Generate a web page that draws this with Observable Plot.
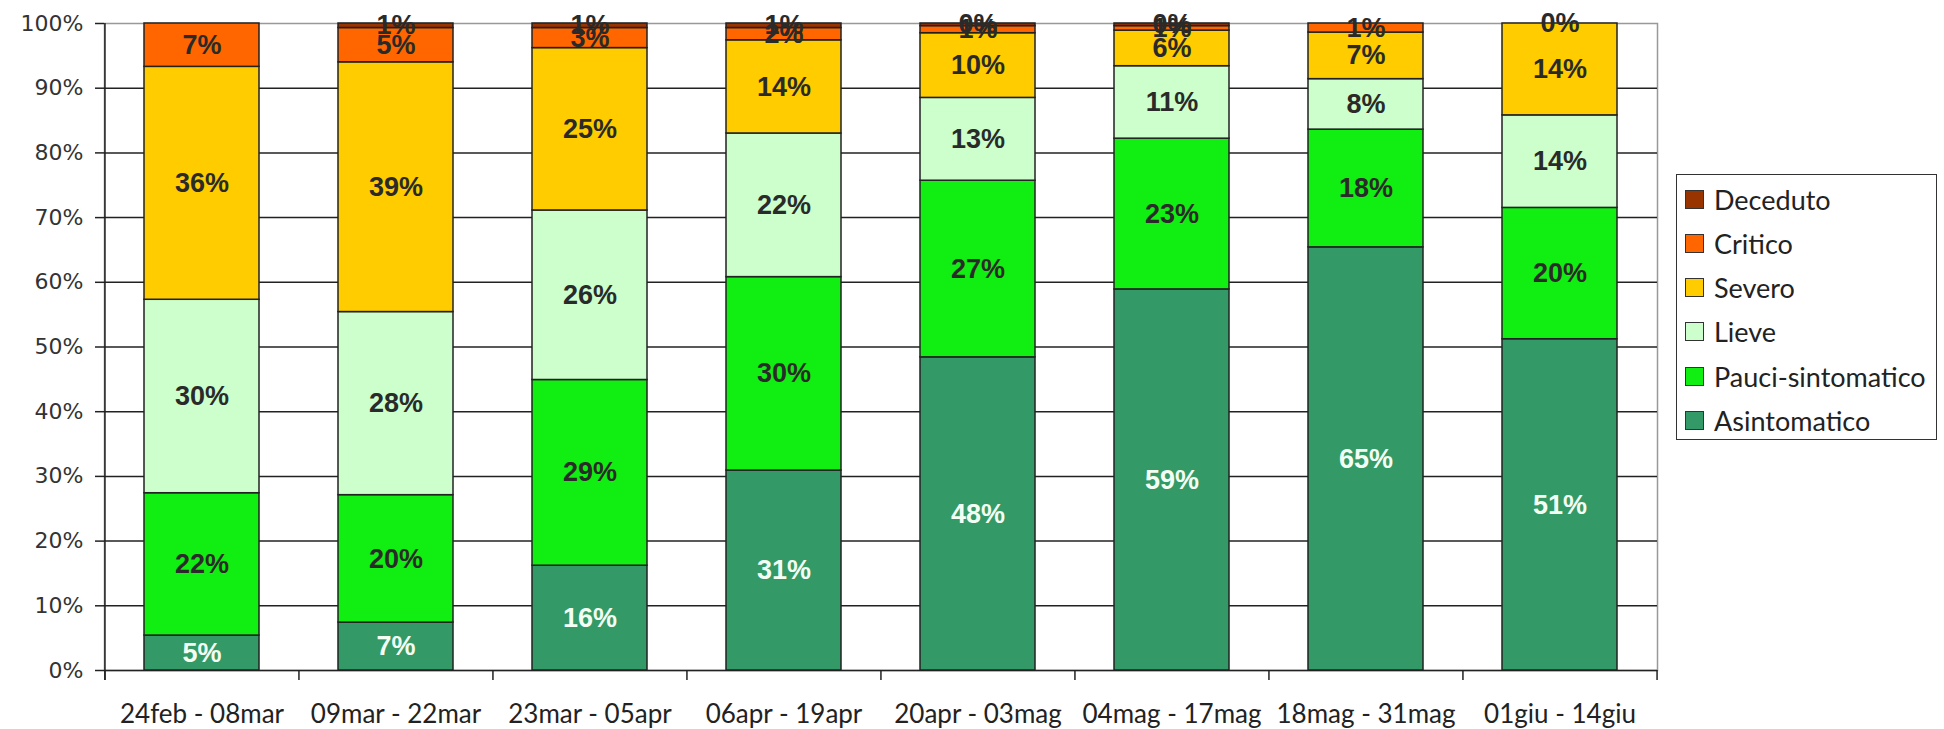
<!DOCTYPE html>
<html>
<head>
<meta charset="utf-8">
<script src="https://cdn.jsdelivr.net/npm/d3@7"></script>
<script src="https://cdn.jsdelivr.net/npm/@observablehq/plot@0.6"></script>
<style>
  html, body { margin: 0; padding: 0; background: #fff; }
  #wrap { position: relative; width: 1944px; height: 729px; }
  #legend { position: absolute; left: 1676px; top: 174px; width: 261px; height: 266px;
            border: 1.5px solid #333; box-sizing: border-box; background: #fff; }
  .item { position: absolute; left: 8px; display: flex; align-items: center; white-space: nowrap;
          font-family: Lato, sans-serif; font-size: 27px; color: #222; line-height: 1; }
  .sw { width: 19px; height: 19px; border: 1.5px solid #333; box-sizing: border-box; margin-right: 10px; flex: none; }
</style>
</head>
<body>
<div id="wrap"></div>
<script>
const periods = ["24feb - 08mar", "09mar - 22mar", "23mar - 05apr", "06apr - 19apr",
                 "20apr - 03mag", "04mag - 17mag", "18mag - 31mag", "01giu - 14giu"];
const categories = ["Asintomatico", "Pauci-sintomatico", "Lieve", "Severo", "Critico", "Deceduto"];
const colors = ["#339966", "#11ee11", "#ccffcc", "#ffcc00", "#ff6600", "#993300"];

const asintomatico = [5.4, 7.4, 16.2, 30.9, 48.4, 58.9, 65.4, 51.2];
const pauci        = [22.0, 19.7, 28.7, 29.9, 27.3, 23.3, 18.2, 20.3];
const lieve        = [29.9, 28.3, 26.2, 22.2, 12.8, 11.2, 7.8, 14.3];
const severo       = [36.0, 38.6, 25.1, 14.4, 10.0, 5.5, 7.2, 14.2];
const critico      = [6.7, 5.3, 3.1, 1.9, 1.1, 0.7, 1.4, 0];
const deceduto     = [null, 0.7, 0.7, 0.7, 0.4, 0.4, null, null];

const yTicks = [0, 10, 20, 30, 40, 50, 60, 70, 80, 90, 100];

const series = [asintomatico, pauci, lieve, severo, critico, deceduto];
const rows = [];
categories.forEach((c, ci) => {
  series[ci].forEach((v, pi) => {
    if (v == null) return;
    rows.push({period: periods[pi], category: c, value: v, label: Math.round(v) + "%"});
  });
});

const W = 1944, H = 729, mL = 104, mR = 287, mT = 23, mB = 59;
const step = (W - mL - mR) / periods.length;

const chart = Plot.plot({
  width: W, height: H,
  marginLeft: mL, marginRight: mR, marginTop: mT, marginBottom: mB,
  x: {domain: periods, paddingInner: 0.407, paddingOuter: 0.2035, label: null},
  y: {domain: [0, 100], label: null},
  color: {domain: categories, range: colors},
  marks: [
    Plot.frame({stroke: "#999", strokeWidth: 1.5}),
    Plot.ruleY(yTicks.filter(d => d < 100), {stroke: "#222", strokeWidth: 1.5}),
    Plot.barY(rows, {x: "period", y: "value", fill: "category", order: categories,
                     stroke: "#222", strokeWidth: 1.5}),
    Plot.text(rows, Plot.stackY({
      x: "period", y: "value", z: "category", order: categories, text: "label",
      fill: d => d.category === "Asintomatico" ? "#f4fff4" : "#2a2a2a",
      fontFamily: "'Liberation Sans', Arial, sans-serif", fontWeight: "bold", fontSize: 27
    })),
    // y axis line
    Plot.ruleX([periods[0]], {x: d => d, y1: 100, y2: 0, insetBottom: -10, dx: -step / 2,
                              stroke: "#222", strokeWidth: 1.5}),
    // category boundary ticks
    Plot.ruleX(periods, {x: d => d, y1: 0, y2: 0, insetBottom: -10, dx: -step / 2,
                         stroke: "#222", strokeWidth: 1.5}),
    Plot.ruleX([periods[periods.length - 1]], {x: d => d, y1: 0, y2: 0, insetBottom: -10, dx: step / 2,
                         stroke: "#222", strokeWidth: 1.5}),
    Plot.axisY({ticks: yTicks, tickFormat: d => d + "%", tickSize: 9, tickPadding: 12,
                fontSize: 22, fontFamily: "'DejaVu Sans', Verdana, sans-serif", fill: "#333",
                stroke: "#222", strokeWidth: 1.5, label: null}),
    Plot.axisX({tickSize: 0, tickPadding: 34, fontSize: 26, fontFamily: "Lato, sans-serif",
                fill: "#222", label: null})
  ]
});
chart.style.display = "block";
const wrap = document.getElementById("wrap");
wrap.appendChild(chart);

const legend = document.createElement("div");
legend.id = "legend";
const order = categories.slice().reverse();
const colorOf = Object.fromEntries(categories.map((c, i) => [c, colors[i]]));
order.forEach((c, i) => {
  const item = document.createElement("div");
  item.className = "item";
  item.style.top = (24 + i * 44.3 - 14) + "px";
  item.style.height = "28px";
  const sw = document.createElement("div");
  sw.className = "sw";
  sw.style.background = colorOf[c];
  const t = document.createElement("span");
  t.textContent = c;
  item.appendChild(sw);
  item.appendChild(t);
  legend.appendChild(item);
});
wrap.appendChild(legend);
</script>
</body>
</html>
